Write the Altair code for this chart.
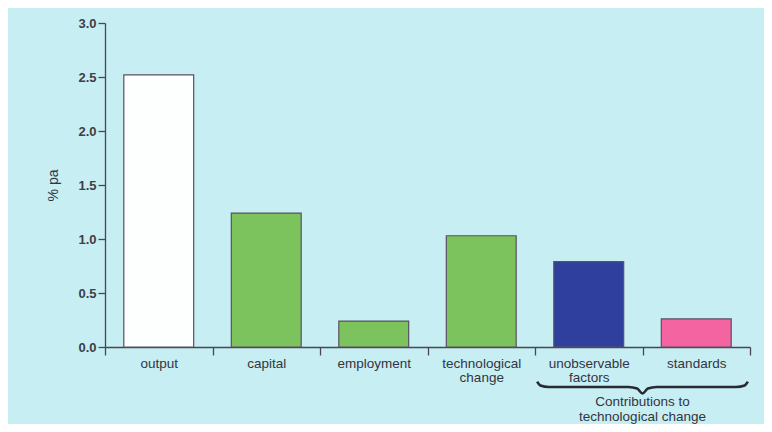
import altair as alt
import pandas as pd

categories = ["output", "capital", "employment", "technological change",
              "unobservable factors", "standards"]
values = [2.52, 1.24, 0.24, 1.03, 0.79, 0.26]
colors = ["#fdfefe", "#7cc35d", "#7cc35d", "#7cc35d", "#2e3f9e", "#f464a0"]
y_ticks = [0.0, 0.5, 1.0, 1.5, 2.0, 2.5, 3.0]

# brace annotation under the last two categories (x in band units, y in data units)
brace_x = [4.02, 4.05, 4.13, 4.87, 4.95, 5.0, 5.05, 5.13, 5.87, 5.95, 5.98]
brace_y = [-0.32, -0.356, -0.37, -0.37, -0.385, -0.43, -0.385, -0.37, -0.37, -0.356, -0.32]
note_lines = ["Contributions to", "technological change"]
note_y = [-0.508, -0.645]

df = pd.DataFrame({"category": categories, "value": values})
brace = pd.DataFrame({"bx": brace_x, "by": brace_y})
note_df = pd.DataFrame({"nx": [5.0, 5.0], "ny": note_y, "t": note_lines})

FONT = "Liberation Sans"
AX = "#4b4652"

bars = alt.Chart(df).mark_bar(
    width=alt.RelativeBandSize(0.65), stroke="#5b4f63", strokeWidth=1.2
).encode(
    x=alt.X("category:N", sort=categories,
            scale=alt.Scale(paddingInner=0, paddingOuter=0),
            axis=alt.Axis(title=None, labelAngle=0, tickBand="extent",
                          labelExpr="split(datum.label, ' ')",
                          labelLineHeight=14.5, labelFontSize=13.5,
                          labelColor="#34343f", labelFont=FONT,
                          tickSize=8, labelPadding=1,
                          domainColor=AX, tickColor=AX, domainWidth=1.3,
                          tickWidth=1.3)),
    y=alt.Y("value:Q", scale=alt.Scale(domain=[0, 3], nice=False),
            axis=alt.Axis(title="% pa", values=y_ticks, format=".1f",
                          grid=False, tickSize=7, labelFontSize=13,
                          labelFontWeight="bold", labelColor="#3e3e48",
                          labelFont=FONT, titleFont=FONT, titleFontSize=14,
                          titleFontWeight="normal", titleColor="#34343f",
                          titlePadding=17, domainColor=AX, tickColor=AX,
                          domainWidth=1.3, tickWidth=1.3)),
    color=alt.Color("category:N", scale=alt.Scale(domain=categories, range=colors),
                    legend=None),
)

brace_line = alt.Chart(brace).mark_line(
    color="#2a2a35", strokeWidth=2.6, interpolate="monotone"
).encode(
    x=alt.X("bx:Q", scale=alt.Scale(domain=[0, 6], nice=False, zero=False), axis=None),
    y=alt.Y("by:Q"),
)

note = alt.Chart(note_df).mark_text(
    font=FONT, fontSize=13.5, color="#34343f", baseline="middle", align="center"
).encode(
    x=alt.X("nx:Q", scale=alt.Scale(domain=[0, 6], nice=False, zero=False), axis=None),
    y=alt.Y("ny:Q"),
    text="t:N",
)

chart = alt.layer(bars, brace_line, note).resolve_scale(x="independent").properties(
    width=645, height=324,
    autosize=alt.AutoSizeParams(type="none"),
    padding={"left": 97, "top": 15, "right": 14, "bottom": 77},
    background="#c6eef3",
).configure_view(stroke=None)

chart.save("out.html", embed_options={"renderer": "svg", "actions": False})
